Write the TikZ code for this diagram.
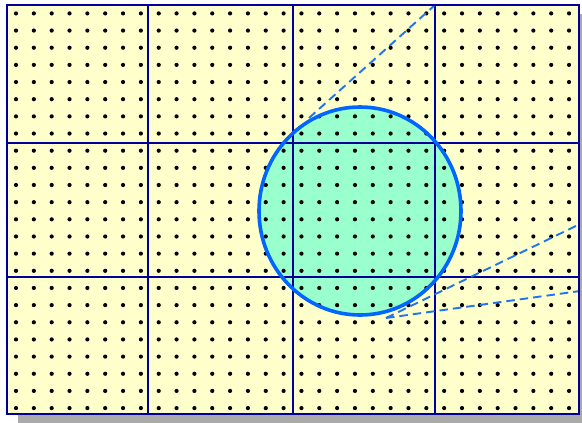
\documentclass[tikz,border=0pt]{standalone}
\usetikzlibrary{calc}
\definecolor{paper}{HTML}{FFFFCC}
\definecolor{gridc}{HTML}{000099}
\definecolor{discfill}{HTML}{99FFCC}
\definecolor{discline}{HTML}{0066FF}
\definecolor{dashc}{HTML}{1F74F0}
\definecolor{shadowc}{HTML}{AAAAAA}
\tikzset{
  gridline/.style={draw=gridc, line width=1.8pt},
  dotmark/.style={fill=black},
  callout/.style={draw=dashc, line width=1.9pt, dash pattern=on 8.5pt off 5pt},
}
\begin{document}
\begin{tikzpicture}[x=1pt,y=-1pt]
\useasboundingbox (0,0) rectangle (582,423);
% shadow
\fill[shadowc] (18,14) rectangle (590,423);
% paper
\fill[paper] (7,5) rectangle (579,414);
% disc fill
\fill[discfill] (360,211) ellipse [x radius=101, y radius=104];
% grid lines
\draw[gridline] (148,5) -- (148,414);
\draw[gridline] (293,5) -- (293,414);
\draw[gridline] (435,5) -- (435,414);
\draw[gridline] (7,143) -- (579,143);
\draw[gridline] (7,277) -- (579,277);
% dots
\foreach \i in {0,...,31} {
  \foreach \j in {0,...,23} {
    \fill[dotmark] ({16+\i*17.84},{13.4+\j*17.16}) circle (2.1);
  }
}
% disc outline
\draw[discline, line width=3.6pt] (360,211) ellipse [x radius=101, y radius=104];
% callout lines
\coordinate (c1) at (435,5);
\coordinate (p1) at (309,118);
\coordinate (c2) at (580,224);
\coordinate (c3) at (580,291);
\coordinate (p2) at (386,318);
\draw[callout] (p1) -- (c1);
\draw[callout] (p2) -- (c2);
\draw[callout] (p2) -- (c3);
% frame
\draw[gridc, line width=2pt] (7,5) rectangle (579,414);
\end{tikzpicture}
\end{document}
